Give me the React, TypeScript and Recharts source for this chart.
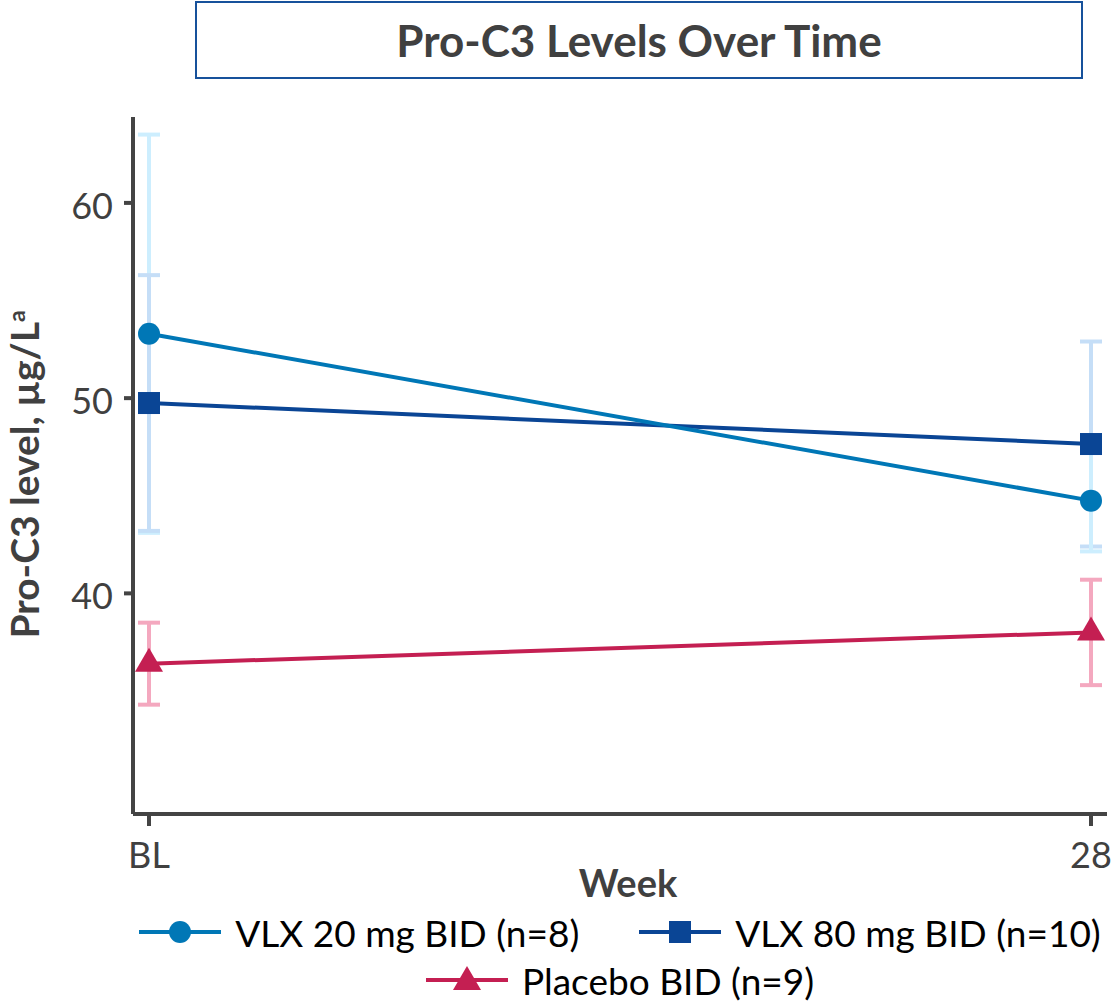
import React from 'react';
import { LineChart, Line, XAxis, YAxis, ErrorBar, Legend, Label } from 'recharts';

// ---- data ----
const weeks = ['BL', '28'];
const vlx20 = [53.3, 44.75];
const vlx20Err = [10.2, 2.6];
const vlx80 = [49.75, 47.65];
const vlx80Err = [6.55, 5.25];
const placebo = [36.4, 38.0];
const placeboErr = [2.1, 2.7];
const yTicks = [40, 50, 60];
const seriesNames = ['VLX 20 mg BID (n=8)', 'VLX 80 mg BID (n=10)', 'Placebo BID (n=9)'];
const titleText = 'Pro-C3 Levels Over Time';
const xTitle = 'Week';

const data = weeks.map((w, i) => ({
  week: w,
  v20: vlx20[i],
  e20a: i === 0 ? vlx20Err[i] : null,
  e20b: i === 1 ? vlx20Err[i] : null,
  v80: vlx80[i],
  e80: vlx80Err[i],
  pl: placebo[i],
  epl: placeboErr[i],
}));

const C20 = '#0077b6';
const C80 = '#0a4595';
const CPL = '#c41f52';
const E20 = '#cdeefe';
const E80 = '#c5def7';
const EPL = '#f4a8bf';
const AXIS = '#444444';
const TXT = '#404040';
const FONT = 'Lato, "Noto Sans", sans-serif';

type Kind = 'circle' | 'square' | 'triangle';

const Marker = ({ kind, cx, cy, color }: { kind: Kind; cx: number; cy: number; color: string }) => {
  if (kind === 'circle') return <circle cx={cx} cy={cy} r={11} fill={color} />;
  if (kind === 'square') return <rect x={cx - 11} y={cy - 11} width={22} height={22} fill={color} />;
  return (
    <polygon
      points={`${cx},${cy - 16} ${cx - 14},${cy + 8} ${cx + 14},${cy + 8}`}
      fill={color}
    />
  );
};

const makeDot = (kind: Kind, color: string) => (p: any) => {
  if (p.cx == null || p.cy == null) return <g key={`d-${kind}-${p.index}`} />;
  return (
    <g key={`d-${kind}-${p.index}`}>
      <Marker kind={kind} cx={p.cx} cy={p.cy} color={color} />
    </g>
  );
};

const legendItems: { name: string; kind: Kind; color: string }[] = [
  { name: seriesNames[0], kind: 'circle', color: C20 },
  { name: seriesNames[1], kind: 'square', color: C80 },
  { name: seriesNames[2], kind: 'triangle', color: CPL },
];

const LegendItem = ({ item }: { item: { name: string; kind: Kind; color: string } }) => (
  <div style={{ display: 'flex', alignItems: 'center' }}>
    <svg width={82} height={30} style={{ display: 'block' }}>
      <line x1={0} x2={82} y1={15} y2={15} stroke={item.color} strokeWidth={4} />
      <Marker kind={item.kind} cx={41} cy={item.kind === 'triangle' ? 17 : 15} color={item.color} />
    </svg>
    <span
      style={{
        marginLeft: 14,
        fontFamily: FONT,
        fontSize: 37,
        lineHeight: 1,
        color: '#000',
        whiteSpace: 'nowrap',
      }}
    >
      {item.name}
    </span>
  </div>
);

const renderLegend = () => (
  <div style={{ width: '100%' }}>
    <div style={{ display: 'flex', justifyContent: 'center', alignItems: 'center', height: 52, gap: 60 }}>
      <LegendItem item={legendItems[0]} />
      <LegendItem item={legendItems[1]} />
    </div>
    <div style={{ display: 'flex', justifyContent: 'center', alignItems: 'center', height: 44 }}>
      <LegendItem item={legendItems[2]} />
    </div>
  </div>
);

const YLabel = (props: any) => {
  const vb = props.viewBox || { x: 0, y: 117, width: 133, height: 697 };
  const cx = 39;
  const cy = vb.y + vb.height / 2 + 9;
  return (
    <text
      x={cx}
      y={cy}
      transform={`rotate(-90, ${cx}, ${cy})`}
      textAnchor="middle"
      fontFamily={FONT}
      fontWeight={700}
      fontSize={39}
      fill={TXT}
    >
      Pro-C3 level, µg/L
      <tspan dy={-14} fontSize={23}>a</tspan>
    </text>
  );
};

const XLabel = (props: any) => {
  const vb = props.viewBox || { x: 133, y: 814, width: 974, height: 189 };
  return (
    <text
      x={vb.x + vb.width / 2 + 8}
      y={vb.y + 83}
      textAnchor="middle"
      fontFamily={FONT}
      fontWeight={700}
      fontSize={38}
      fill={TXT}
    >
      {xTitle}
    </text>
  );
};

export default function App() {
  return (
    <div style={{ position: 'absolute', left: 0, top: 0, width: 1112, height: 1003, background: '#fff' }}>
      <div
        style={{
          position: 'absolute',
          left: 195,
          top: 1,
          width: 888,
          height: 78,
          boxSizing: 'border-box',
          border: '2px solid #17519b',
          display: 'flex',
          alignItems: 'center',
          justifyContent: 'center',
          fontFamily: FONT,
          fontWeight: 700,
          fontSize: 44,
          lineHeight: 1,
          color: TXT,
          zIndex: 2,
        }}
      >
        {titleText}
      </div>
      <LineChart width={1112} height={1003} data={data} margin={{ top: 117, right: 5, bottom: 0, left: 0 }}>
        <XAxis
          dataKey="week"
          padding={{ left: 16, right: 16 }}
          height={189}
          interval={0}
          tickSize={12}
          tickMargin={16}
          axisLine={{ stroke: AXIS, strokeWidth: 4 }}
          tickLine={{ stroke: AXIS, strokeWidth: 4 }}
          tick={{ fill: TXT, fontSize: 36, fontFamily: FONT }}
          label={<Label content={XLabel} />}
        />
        <YAxis
          type="number"
          width={133}
          domain={[28.7, 64.4]}
          ticks={yTicks}
          allowDataOverflow
          tickSize={9}
          tickMargin={11}
          axisLine={{ stroke: AXIS, strokeWidth: 4 }}
          tickLine={{ stroke: AXIS, strokeWidth: 4 }}
          tick={{ fill: TXT, fontSize: 36, fontFamily: FONT, dy: 3 }}
          label={<Label content={YLabel} />}
        />
        {/* error bars (drawn beneath the lines) */}
        <Line dataKey="v20" stroke="none" dot={false} activeDot={false} legendType="none" isAnimationActive={false}>
          <ErrorBar dataKey="e20a" stroke={E20} strokeWidth={4} width={11} />
        </Line>
        <Line dataKey="v80" stroke="none" dot={false} activeDot={false} legendType="none" isAnimationActive={false}>
          <ErrorBar dataKey="e80" stroke={E80} strokeWidth={4} width={11} />
        </Line>
        <Line dataKey="v20" stroke="none" dot={false} activeDot={false} legendType="none" isAnimationActive={false}>
          <ErrorBar dataKey="e20b" stroke={E20} strokeWidth={4} width={11} />
        </Line>
        <Line dataKey="pl" stroke="none" dot={false} activeDot={false} legendType="none" isAnimationActive={false}>
          <ErrorBar dataKey="epl" stroke={EPL} strokeWidth={4} width={11} />
        </Line>
        {/* series */}
        <Line
          dataKey="pl"
          name={seriesNames[2]}
          stroke={CPL}
          strokeWidth={4}
          dot={makeDot('triangle', CPL)}
          activeDot={false}
          isAnimationActive={false}
        />
        <Line
          dataKey="v80"
          name={seriesNames[1]}
          stroke={C80}
          strokeWidth={4}
          dot={makeDot('square', C80)}
          activeDot={false}
          isAnimationActive={false}
        />
        <Line
          dataKey="v20"
          name={seriesNames[0]}
          stroke={C20}
          strokeWidth={4}
          dot={makeDot('circle', C20)}
          activeDot={false}
          isAnimationActive={false}
        />
        <Legend
          verticalAlign="middle"
          align="center"
          layout="horizontal"
          wrapperStyle={{ top: 906, left: 128, width: 984 }}
          content={renderLegend}
        />
      </LineChart>
    </div>
  );
}
